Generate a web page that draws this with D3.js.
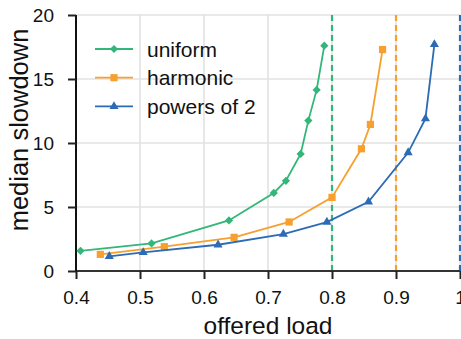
<!DOCTYPE html>
<meta charset="utf-8">
<style>
  body { margin: 0; background: #fff; }
  svg text { font-family: "Liberation Sans", Arial, sans-serif; fill: #111; }
</style>
<body>
<svg id="chart"></svg>
<script src="https://cdn.jsdelivr.net/npm/d3@7"></script>
<script>
// data
var seriesNames = ["uniform", "harmonic", "powers of 2"];
var seriesColors = ["#33b679", "#f7a030", "#2c6bb5"];
var capacity = [0.8, 0.9, 1.0];

var uniformLoad = [0.407, 0.518, 0.639, 0.709, 0.728, 0.751, 0.763, 0.776, 0.788];
var uniformSlow = [1.58, 2.15, 3.95, 6.1, 7.05, 9.15, 11.75, 14.15, 17.6];

var harmonicLoad = [0.438, 0.538, 0.647, 0.733, 0.8, 0.846, 0.86, 0.879];
var harmonicSlow = [1.3, 1.9, 2.63, 3.83, 5.75, 9.55, 11.45, 17.3];

var pow2Load = [0.452, 0.505, 0.622, 0.724, 0.792, 0.857, 0.919, 0.946, 0.96];
var pow2Slow = [1.15, 1.45, 2.05, 2.88, 3.82, 5.4, 9.25, 11.9, 17.7];

var xTicks = [0.4, 0.5, 0.6, 0.7, 0.8, 0.9, 1];
var yTicks = [0, 5, 10, 15, 20];

var W = 461, H = 339;
var m = {left: 76, right: 1, top: 15, bottom: 68};

var svg = d3.select("#chart").attr("width", W).attr("height", H);

var x = d3.scaleLinear().domain([0.4, 1]).range([m.left, W - m.right]);
var y = d3.scaleLinear().domain([0, 20]).range([H - m.bottom, m.top]);

// grid
svg.append("g").selectAll("line").data(xTicks.slice(1)).enter().append("line")
  .attr("x1", d => x(d)).attr("x2", d => x(d))
  .attr("y1", y(0)).attr("y2", y(20))
  .attr("stroke", "#e2e2e2").attr("stroke-width", 1.6);
svg.append("g").selectAll("line").data(yTicks.slice(1)).enter().append("line")
  .attr("x1", x(0.4)).attr("x2", x(1))
  .attr("y1", d => y(d)).attr("y2", d => y(d))
  .attr("stroke", "#e2e2e2").attr("stroke-width", 1.6);

// capacity dashed lines
svg.append("g").selectAll("line").data(capacity).enter().append("line")
  .attr("x1", d => x(d)).attr("x2", d => x(d))
  .attr("y1", y(0)).attr("y2", y(20))
  .attr("stroke", (d, i) => seriesColors[i])
  .attr("stroke-width", 2.2)
  .attr("stroke-dasharray", "6,4");

// axes
var xAxis = svg.append("g").attr("transform", "translate(0," + y(0) + ")")
  .call(d3.axisBottom(x).tickValues(xTicks).tickSize(8).tickPadding(12)
    .tickFormat(d => d === 1 ? "1" : d3.format(".1f")(d)));
var yAxis = svg.append("g").attr("transform", "translate(" + x(0.4) + ",0)")
  .call(d3.axisLeft(y).tickValues(yTicks).tickSize(8).tickPadding(14));
[xAxis, yAxis].forEach(function (a) {
  a.select(".domain").attr("stroke", "#333").attr("stroke-width", 2);
  a.selectAll(".tick line").attr("stroke", "#222").attr("stroke-width", 2);
  a.selectAll("text").style("font-size", "19px").attr("fill", "#111");
});
yAxis.select(".domain").attr("stroke", "#111").attr("d", "M0," + y(0) + "V" + y(20));
xAxis.select(".domain").attr("d", "M" + x(0.4) + ",0H" + x(1));

// axis titles
svg.append("text").attr("x", (x(0.4) + x(1)) / 2).attr("y", 334)
  .attr("text-anchor", "middle").style("font-size", "24.5px").text("offered load");
svg.append("text")
  .attr("transform", "translate(28,130) rotate(-90)")
  .attr("text-anchor", "middle").style("font-size", "25.5px").text("median slowdown");

// series (diamond = square turned 45 degrees)
var series = [
  {load: uniformLoad, slow: uniformSlow, sym: d3.symbolSquare, size: 34, rot: 45},
  {load: harmonicLoad, slow: harmonicSlow, sym: d3.symbolSquare, size: 52, rot: 0},
  {load: pow2Load, slow: pow2Slow, sym: d3.symbolTriangle, size: 36, rot: 0}
];
var line = d3.line().x(d => x(d[0])).y(d => y(d[1]));

series.forEach(function (s, i) {
  var pts = d3.zip(s.load, s.slow);
  svg.append("path").datum(pts).attr("d", line)
    .attr("fill", "none").attr("stroke", seriesColors[i]).attr("stroke-width", 1.8);
  svg.append("g").selectAll("path").data(pts).enter().append("path")
    .attr("transform", d => "translate(" + x(d[0]) + "," + y(d[1]) + ") rotate(" + s.rot + ")")
    .attr("d", d3.symbol().type(s.sym).size(s.size))
    .attr("fill", seriesColors[i]);
});

// legend
var leg = svg.append("g").attr("transform", "translate(95,49)");
seriesNames.forEach(function (n, i) {
  var g = leg.append("g").attr("transform", "translate(0," + (i * 28.7) + ")");
  g.append("line").attr("x1", 0).attr("x2", 38).attr("y1", 0).attr("y2", 0)
    .attr("stroke", seriesColors[i]).attr("stroke-width", 1.8);
  g.append("path").attr("transform", "translate(19,0) rotate(" + series[i].rot + ")")
    .attr("d", d3.symbol().type(series[i].sym).size(series[i].size))
    .attr("fill", seriesColors[i]);
  g.append("text").attr("x", 52).attr("y", 7.5).style("font-size", "21px").text(n);
});
</script>
</body>
